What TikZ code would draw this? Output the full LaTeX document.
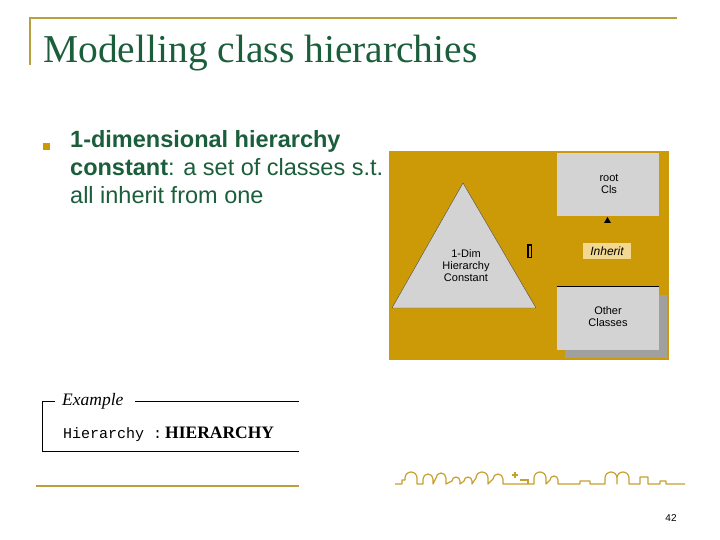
\documentclass[tikz,border=0pt]{standalone}
\usepackage{fontspec}
\setmainfont{Liberation Serif}
\setsansfont{Liberation Sans}
\setmonofont{Liberation Mono}
\definecolor{rulegold}{HTML}{B8A040}
\definecolor{titlegreen}{HTML}{1B5E3B}
\definecolor{boxgold}{HTML}{CC9A06}
\definecolor{lightgray}{HTML}{D3D3D3}
\definecolor{shadowgray}{HTML}{A0A0A0}
\definecolor{inhbg}{HTML}{F2D890}
\definecolor{wavegold}{HTML}{C8A030}
\tikzset{
  graybox/.style={fill=lightgray,draw=none},
  smalltxt/.style={font=\sffamily\fontsize{11}{12}\selectfont,align=center,inner sep=0pt},
  bodytxt/.style={font=\sffamily\fontsize{23.5}{28}\selectfont,text=titlegreen,anchor=north west,align=left,inner sep=0pt},
}
\begin{document}
\begin{tikzpicture}[x=1pt,y=-1pt]
\useasboundingbox (0,0) rectangle (720,540);
% top rules
\draw[rulegold,line width=2.5pt] (30,65) -- (30,18) -- (677,18);
\node[anchor=base west,inner sep=0pt,text=titlegreen,font=\fontsize{39.5}{42}\selectfont] (title) at (43,63) {Modelling class hierarchies};
% bullet
\fill[boxgold] (43,143) rectangle (50,150);
\node[bodytxt] (body) at (70,130.5) {\textbf{1-dimensional hierarchy}\\\textbf{constant}: a set of classes s.t.\\all inherit from one};
% diagram
\fill[boxgold] (389,151) rectangle (669,360);
\node[graybox,minimum width=102pt,minimum height=63pt,inner sep=0pt] (root) at (608,184.5) {};
\node[smalltxt] at (609,183.5) {root\\Cls};
\draw[fill=lightgray,draw=black!70,line width=0.4pt] (463,183) -- (536,308) -- (392,308) -- cycle;
\node[smalltxt] (tri) at (466,266) {1-Dim\\Hierarchy\\Constant};
\draw[black,line width=1.2pt] (528,245) rectangle (531.5,257.5);
\fill[black] (604,223) -- (611,223) -- (607.5,217) -- cycle;
\node[fill=inhbg,inner sep=0pt,minimum width=48pt,minimum height=16pt,font=\sffamily\itshape\fontsize{12}{12}\selectfont] (inh) at (607,251) {Inherit};
\fill[shadowgray] (565,295) rectangle (667,358);
\node[graybox,minimum width=102pt,minimum height=63pt,inner sep=0pt] (other) at (608,318) {};
\draw[black,line width=0.8pt] (557,286.5) -- (659,286.5);
\node[smalltxt] at (608,317) {Other\\Classes};
% example box
\node[anchor=west,inner sep=0pt,font=\itshape\fontsize{17.5}{17.5}\selectfont] (ex) at (62,401) {Example};
\draw[black,line width=0.6pt] (55,401) -- (42,401) -- (42,451) -- (299,451);
\draw[black,line width=0.6pt] (135,401) -- (299,401);
\node[anchor=base west,inner sep=0pt,font=\ttfamily\fontsize{15}{15}\selectfont] (hier) at (63,438) {Hierarchy :};
\node[anchor=base west,inner sep=0pt,font=\bfseries\fontsize{17.5}{17.5}\selectfont] (hh) at (165,438) {HIERARCHY};
% bottom rule
\draw[rulegold,line width=2pt] (36,486) -- (299,486);
% decorative wave
\draw[wavegold,line width=1.2pt,line join=round]
 (395,484) -- (402,484) -- (402,480) -- (405,480) -- (405,478) arc[start angle=180,end angle=360,radius=6] -- (417,484) -- (423,484)
 -- (423,479) arc[start angle=180,end angle=360,radius=5] -- (433,484) -- (436,478) arc[start angle=180,end angle=360,radius=5] -- (446,484)
 -- (452,481) arc[start angle=180,end angle=360,radius=4] -- (460,484) -- (464,481) arc[start angle=180,end angle=360,radius=4] -- (472,484)
 -- (476,478) arc[start angle=180,end angle=360,radius=6] -- (488,484) -- (493,479) arc[start angle=180,end angle=360,radius=5] -- (503,484)
 -- (510,484) -- (534,484) -- (534,478) arc[start angle=180,end angle=360,radius=6] -- (546,484)
 -- (550,480) arc[start angle=180,end angle=360,radius=4] -- (558,484) -- (580,484) -- (580,481) -- (590,481) -- (590,484)
 -- (605,484) -- (605,478) arc[start angle=180,end angle=360,radius=6] -- (617,484) -- (617,478) arc[start angle=180,end angle=360,radius=6] -- (629,484)
 -- (640,484) -- (640,477) -- (648,477) -- (648,484) -- (660,484) -- (660,481) -- (666,481) -- (666,484) -- (685,484);
\draw[wavegold,line width=1.2pt] (515,478) -- (515,472) (512,475) -- (518,475) (520,480) -- (528,480) -- (528,484);
% page number
\node[anchor=base,inner sep=0pt,font=\sffamily\fontsize{10}{10}\selectfont] (pg) at (671,521) {42};
\end{tikzpicture}
\end{document}
